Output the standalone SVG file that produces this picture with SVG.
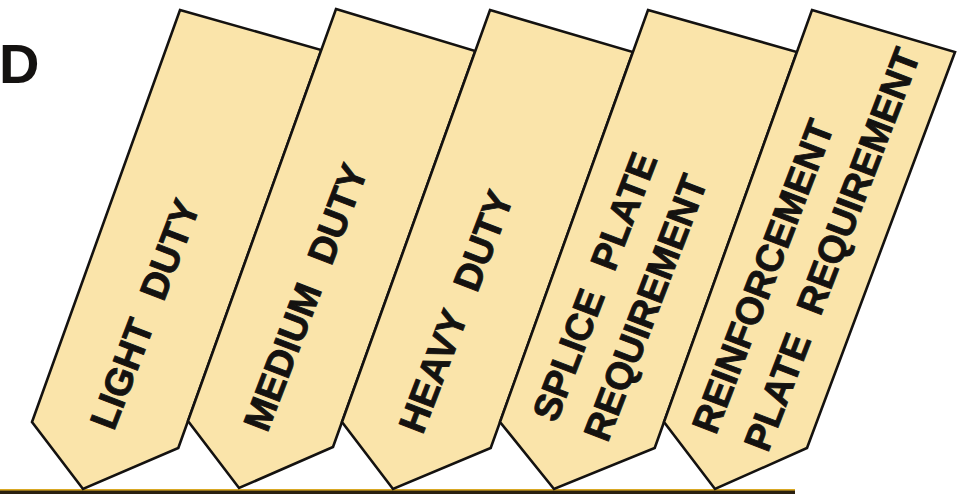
<svg xmlns="http://www.w3.org/2000/svg" width="976" height="494" viewBox="0 0 976 494">
<style>
.tab{fill:#FAE4AA;stroke:#141210;stroke-width:2.6;stroke-linejoin:miter}
.lbl{font-family:"Liberation Sans",Arial,Helvetica,sans-serif;font-weight:bold;font-size:38px;fill:#141210;stroke:#141210;stroke-width:0.9;word-spacing:14px}
</style>
<rect x="0" y="0" width="976" height="494" fill="#FFFFFF"/>
<text x="-1" y="83" font-family="Liberation Sans, Arial, sans-serif" font-weight="bold" font-size="56" fill="#141210">D</text>
<g id="connectors">
<rect x="0" y="489.5" width="795" height="4.5" fill="#2A2010"/>
<rect x="0" y="489" width="795" height="1.6" fill="#D9A823"/>
</g>
<g id="tab-light-duty">
<polygon class="tab" points="180,10 321.3,50 178.3,448 83,489 32,422"/>
<text class="lbl" text-anchor="middle" transform="translate(157.2,318.9) rotate(-69)">LIGHT DUTY</text>
</g>
<g id="tab-medium-duty">
<polygon class="tab" points="336,9 475.3,51 333,447 239,488 188,421"/>
<text class="lbl" text-anchor="middle" transform="translate(317.7,301.9) rotate(-69)">MEDIUM DUTY</text>
</g>
<g id="tab-heavy-duty">
<polygon class="tab" points="490,10 632.9,52 490.7,448 393,489 342,422"/>
<text class="lbl" text-anchor="middle" transform="translate(468.2,316.4) rotate(-69)">HEAVY DUTY</text>
</g>
<g id="tab-splice-plate">
<polygon class="tab" points="648,10 796.9,52 654.7,448 554,489 500,422"/>
<text class="lbl" transform="translate(556.2,423.8) rotate(-69)"><tspan x="0" y="0">SPLICE PLATE</tspan><tspan x="0" dy="55">REQUIREMENT</tspan></text>
</g>
<g id="tab-reinforcement-plate">
<polygon class="tab" points="812,10 955,52 807,448 715,489 664,422"/>
<text class="lbl" transform="translate(715.8,435.7) rotate(-69)"><tspan x="0" y="0">REINFORCEMENT</tspan><tspan x="2" dy="55">PLATE REQUIREMENT</tspan></text>
</g>
</svg>
